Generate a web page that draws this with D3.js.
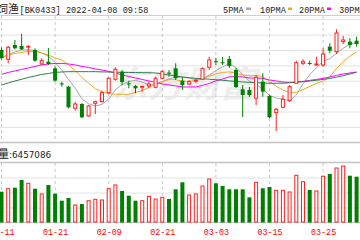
<!DOCTYPE html>
<html>
<head>
<meta charset="utf-8">
<script src="https://cdn.jsdelivr.net/npm/d3@7/dist/d3.min.js"></script>
<style>
  body { margin: 0; background: #fff; }
  svg { display: block; }
</style>
</head>
<body>
<div id="chart"></div>
<script>
// trading days shown in the window (partial left/right crop of the original)
const dates = [
  '2022-01-11', '2022-01-12', '2022-01-13', '2022-01-14', '2022-01-17', '2022-01-18', '2022-01-19', '2022-01-20',
  '2022-01-21', '2022-01-24', '2022-01-25', '2022-01-26', '2022-01-27', '2022-01-28', '2022-02-07', '2022-02-08',
  '2022-02-09', '2022-02-10', '2022-02-11', '2022-02-14', '2022-02-15', '2022-02-16', '2022-02-17', '2022-02-18',
  '2022-02-21', '2022-02-22', '2022-02-23', '2022-02-24', '2022-02-25', '2022-02-28', '2022-03-01', '2022-03-02',
  '2022-03-03', '2022-03-04', '2022-03-07', '2022-03-08', '2022-03-09', '2022-03-10', '2022-03-11', '2022-03-14',
  '2022-03-15', '2022-03-16', '2022-03-17', '2022-03-18', '2022-03-21', '2022-03-22', '2022-03-23', '2022-03-24',
  '2022-03-25', '2022-03-28', '2022-03-29', '2022-03-30', '2022-03-31', '2022-04-01'
];

const open = [
  1100, 1087.9, 1106.5, 1105.2, 1103.6, 1100, 1081.8, 1084.8, 1076.2, 1056.5, 1052.3, 1024.2, 1029.8, 1014.2,
  1030.7, 1032.8, 1044.5, 1061.9, 1071.8, 1056.5, 1053.2, 1051.5, 1053.2, 1051.5, 1063.2, 1070.5, 1076.2, 1060.1,
  1055.8, 1059.4, 1061.9, 1077.5, 1085.4, 1084, 1088.3, 1074, 1048.9, 1048, 1037.2, 1058.8, 1040.2, 1018.5,
  1025.5, 1034.1, 1056.7, 1082.7, 1083.1, 1080.5, 1080.5, 1104.3, 1097.8, 1110.8, 1110.8, 1112.1
];
const high = [
  1103.3, 1105.2, 1113, 1120.8, 1106.5, 1102.2, 1089.2, 1102.6, 1078.3, 1058.8, 1053.2, 1032.8, 1030.7, 1028.5,
  1034.1, 1047.1, 1064.5, 1077.5, 1074, 1060.1, 1054.5, 1053.2, 1058.8, 1065.3, 1074, 1074, 1082.7, 1064.5,
  1061, 1063, 1077.3, 1091.3, 1089.6, 1090.9, 1092.2, 1076.6, 1054.5, 1051.9, 1067.5, 1069.7, 1041.5, 1024.6,
  1041.5, 1054.5, 1086.1, 1087.9, 1086.1, 1091.3, 1102.2, 1108.7, 1126.9, 1118.2, 1115.2, 1117.3
];
const low = [
  1087.7, 1082.7, 1100.9, 1100, 1093.5, 1084.8, 1080.5, 1080.5, 1058.8, 1052.3, 1024.2, 1021.1, 1011.2, 1013.3,
  1016.8, 1031.5, 1042.8, 1060.1, 1054.5, 1050.2, 1043.7, 1045.8, 1050.2, 1050.2, 1061.9, 1065.3, 1061, 1048,
  1054.5, 1057.1, 1061, 1074, 1080.5, 1080.5, 1076.6, 1050.6, 1012.9, 1038.9, 1028.5, 1039.3, 1011.6, 994.7,
  1024.2, 1032.8, 1055.8, 1080.5, 1080.5, 1079.9, 1078.3, 1095.7, 1094.8, 1107.8, 1102.2, 1104.3
];
const close = [
  1089.2, 1103.5, 1102.2, 1100.9, 1104.6, 1086.1, 1086.1, 1081.8, 1060.1, 1055.2, 1025.5, 1029.8, 1012.5, 1027.2,
  1032.8, 1044.5, 1063.2, 1074.9, 1058.4, 1055.2, 1050.2, 1052.8, 1055.8, 1063.2, 1071.8, 1069.2, 1063.2, 1054.5,
  1058.8, 1060.4, 1075.7, 1087, 1084.4, 1083.1, 1079.2, 1051.9, 1041.5, 1041.5, 1064.5, 1045.8, 1012.5, 1022.9,
  1035.9, 1052.3, 1083.5, 1084.8, 1082.2, 1081.8, 1094.8, 1099.1, 1122.1, 1113, 1106.5, 1107.8
];
const volume = [
  3080, 3380, 3480, 4250, 3920, 3380, 2850, 3750, 2880, 2180, 2450, 1750, 1850, 2180,
  2320, 2250, 3380, 3750, 3150, 2680, 2180, 2180, 2620, 2350, 2520, 2350, 3320, 4020,
  2750, 2850, 3650, 4350, 3920, 3650, 3320, 3320, 3320, 2520, 4020, 3420, 3550, 3220,
  3220, 3050, 4720, 4080, 3250, 3150, 4620, 4850, 5450, 5650, 4680, 4580
];

const ma5 = [
  1089.6, 1093.5, 1097.4, 1100, 1100.1, 1099.5, 1096, 1091.9, 1083.8, 1073.9, 1061.8, 1050.5, 1036.6, 1030.1,
  1027.2, 1029.4, 1036, 1048.5, 1054.8, 1059.2, 1060.4, 1058.3, 1054.5, 1055.4, 1058.8, 1062.6, 1064.6, 1064.4,
  1063.5, 1061.3, 1062.6, 1067.2, 1073.2, 1078.2, 1081.9, 1077.1, 1068, 1059.4, 1055.7, 1049, 1041.1, 1037.5,
  1036.3, 1033.8, 1041.4, 1055.9, 1067.8, 1076.9, 1085.4, 1088.6, 1096, 1102.2, 1107.2, 1109.8
];
const ma10 = [
  1090.9, 1093.5, 1095.5, 1096.8, 1098.1, 1098.1, 1096.1, 1093.5, 1089.6, 1087, 1080.6, 1073.2, 1064.3, 1056.8,
  1049.7, 1045.5, 1043.2, 1042.5, 1042.4, 1042.3, 1044.9, 1047.1, 1051.5, 1055, 1058.9, 1061.4, 1061.4, 1059.4,
  1059.4, 1059.9, 1062.6, 1065.9, 1068.8, 1070.8, 1071.5, 1069.8, 1067.6, 1066.3, 1066.9, 1065.4, 1059.1, 1052.7,
  1047.9, 1044.8, 1045.1, 1048.5, 1052.5, 1056.6, 1059.6, 1064.9, 1075.9, 1084.9, 1091.9, 1097.5
];
const ma20 = [
  1068.4, 1070.8, 1072.7, 1074.7, 1076.6, 1078.6, 1080.5, 1081.8, 1082.5, 1082.5, 1081.8, 1080.5, 1078.6, 1077.3,
  1075.3, 1074, 1072.1, 1070.1, 1067.5, 1065.6, 1063.6, 1061.7, 1059.7, 1057.8, 1055.8, 1054.5, 1053.2, 1051.9,
  1051.9, 1051.9, 1053.9, 1056.5, 1059.7, 1062.3, 1064.9, 1065.6, 1064.9, 1063.6, 1063.6, 1063, 1061, 1059.7,
  1058.4, 1057.8, 1058.4, 1059.1, 1060.4, 1061.7, 1063, 1064.9, 1066.9, 1068.8, 1070.1, 1071.4
];
const ma30 = [
  1054.5, 1057.1, 1059.7, 1061.9, 1064.3, 1066.2, 1068.2, 1069.5, 1070.8, 1071.4, 1071.8, 1071.8, 1071.8, 1071.8,
  1071.8, 1071.5, 1071.4, 1071.1, 1070.9, 1070.8, 1070.6, 1070.5, 1070.4, 1070.1, 1068.8, 1067.5, 1066.2, 1064.9,
  1063.9, 1063.1, 1062.7, 1062, 1061.3, 1060.6, 1059.8, 1059.1, 1058.4, 1057.9, 1057.5, 1057.1, 1056.7, 1056.7,
  1056.8, 1057.4, 1058, 1058.8, 1059.7, 1060.6, 1061.7, 1063, 1064.6, 1066.6, 1068.8, 1071
];

const tickDates = ['2022-01-11', '2022-01-21', '2022-02-09', '2022-02-21', '2022-03-03', '2022-03-15', '2022-03-25'];
const priceTicks = [1000, 1020, 1040, 1060, 1080, 1100, 1120, 1140];
const volTicks = [1500, 3000, 4500];
const maNames = ['5PMA', '10PMA', '20PMA', '30PMA'];
const maColors = ['#a8a8a8', '#f5a623', '#ff00ff', '#2e7d4f'];

const W = 360, H = 240;
const RED = '#ff2020', GREEN = '#008000';
const CJK = '"Noto Sans CJK SC", sans-serif';
const MONO = '"Liberation Mono", "DejaVu Sans Mono", monospace';

const rows = dates.map((d, i) => ({
  date: d, o: open[i], h: high[i], l: low[i], c: close[i], v: volume[i], up: close[i] >= open[i]
}));

const svg = d3.select('#chart').append('svg')
  .attr('width', W)
  .attr('height', H);

const x = d3.scalePoint().domain(dates).range([1.5, 356.6]);
const y = d3.scaleLinear().domain([1000, 1140]).range([126.9, 19.2]);
const yVol = d3.scaleLinear().domain([0, 6000]).range([222.5, 162.5]);

// watermark
svg.append('text')
  .attr('x', 184).attr('y', 97)
  .attr('text-anchor', 'middle')
  .attr('font-family', CJK)
  .attr('font-size', 36)
  .attr('font-weight', 'bold')
  .attr('font-style', 'italic')
  .attr('fill', '#ededed')
  .text('东方财富');

// horizontal grid
svg.append('g')
  .attr('class', 'grid-price')
  .call(d3.axisLeft(y).tickValues(priceTicks).tickSize(-W).tickFormat(''))
  .call(g => g.select('.domain').remove())
  .call(g => g.selectAll('line').attr('stroke', '#e2e2e2'));

svg.append('g')
  .attr('class', 'grid-vol')
  .call(d3.axisLeft(yVol).tickValues(volTicks).tickSize(-W).tickFormat(''))
  .call(g => g.select('.domain').remove())
  .call(g => g.selectAll('line').attr('stroke', '#e2e2e2'));

// vertical dashed grid
const vgrid = svg.append('g').attr('class', 'grid-x');
[[16, 142], [163, 222.5]].forEach(([y0, y1]) => {
  vgrid.selectAll(null)
    .data(tickDates)
    .enter().append('line')
    .attr('x1', d => x(d)).attr('x2', d => x(d))
    .attr('y1', y0).attr('y2', y1)
    .attr('stroke', '#c8c8c8')
    .attr('stroke-dasharray', '3,3');
});

// frame lines
[[15.5, '#cfcfcf', 1], [142.5, '#c4c4c4', 1.5], [162.5, '#c4c4c4', 1.5], [222.5, '#c4c4c4', 1]].forEach(([yy, c, w]) => {
  svg.append('line')
    .attr('x1', 0).attr('x2', W)
    .attr('y1', yy).attr('y2', yy)
    .attr('stroke', c).attr('stroke-width', w);
});

// moving averages
const maSeries = [ma5, ma10, ma20, ma30];
const line = d3.line().x((d, i) => x(dates[i])).y(d => y(d));
svg.append('g')
  .attr('class', 'ma')
  .selectAll('path')
  .data(maSeries)
  .enter().append('path')
  .attr('d', line)
  .attr('fill', 'none')
  .attr('stroke', (d, i) => maColors[i])
  .attr('stroke-width', 1);

// candles
const candle = svg.append('g')
  .attr('class', 'candles')
  .selectAll('g')
  .data(rows)
  .enter().append('g');

candle.filter(d => !d.up).append('line')
  .attr('x1', d => x(d.date)).attr('x2', d => x(d.date))
  .attr('y1', d => y(d.h)).attr('y2', d => y(d.l))
  .attr('stroke', GREEN);

candle.filter(d => !d.up).append('rect')
  .attr('x', d => x(d.date) - 2)
  .attr('y', d => y(d.o))
  .attr('width', 4)
  .attr('height', d => Math.max(1, y(d.c) - y(d.o)))
  .attr('fill', GREEN);

candle.filter(d => d.up).append('line')
  .attr('x1', d => x(d.date)).attr('x2', d => x(d.date))
  .attr('y1', d => y(d.h)).attr('y2', d => y(d.c))
  .attr('stroke', RED);

candle.filter(d => d.up).append('line')
  .attr('x1', d => x(d.date)).attr('x2', d => x(d.date))
  .attr('y1', d => y(d.o)).attr('y2', d => y(d.l))
  .attr('stroke', RED);

candle.filter(d => d.up).append('rect')
  .attr('x', d => x(d.date) - 1.5)
  .attr('y', d => y(d.c))
  .attr('width', 3)
  .attr('height', d => Math.max(0.5, y(d.o) - y(d.c)))
  .attr('fill', '#fff')
  .attr('stroke', RED);

// volume bars
svg.append('g')
  .attr('class', 'volume')
  .selectAll('rect')
  .data(rows)
  .enter().append('rect')
  .attr('x', d => x(d.date) - (d.up ? 1.5 : 2))
  .attr('y', d => yVol(d.v))
  .attr('width', d => d.up ? 3 : 4)
  .attr('height', d => yVol(0) - yVol(d.v) - (d.up ? 0.5 : 0))
  .attr('fill', d => d.up ? '#fff' : GREEN)
  .attr('stroke', d => d.up ? RED : 'none');

// x axis labels
svg.append('g')
  .attr('class', 'axis-x')
  .attr('transform', 'translate(0,222.5)')
  .call(d3.axisBottom(x).tickValues(tickDates).tickSize(0).tickFormat(d => d.slice(5)))
  .call(g => g.select('.domain').remove())
  .call(g => g.selectAll('text')
    .attr('y', 12.5).attr('dy', 0)
    .attr('fill', '#f00')
    .attr('font-family', MONO)
    .attr('font-size', 8.4));

// title
const title = svg.append('text')
  .attr('x', -25).attr('y', 12.5)
  .attr('fill', '#222');
title.append('tspan').attr('font-family', CJK).attr('font-size', 11).text('农牧饲渔');
title.append('tspan').attr('font-family', MONO).attr('font-size', 8.6).attr('x', 19.5)
  .text('[BK0433] 2022-04-08 09:58');

// legend
const legendX = [223, 260, 299, 339];
const markX = [246, 288, 327, 372];
const legend = svg.append('g').attr('class', 'legend');
maNames.forEach((name, i) => {
  legend.append('text')
    .attr('x', legendX[i]).attr('y', 12.5)
    .attr('font-family', MONO).attr('font-size', 8.6)
    .attr('fill', '#222')
    .text(name);
  legend.append('rect')
    .attr('x', markX[i]).attr('y', 7.5)
    .attr('width', i === 0 ? 5 : 4).attr('height', 2.5)
    .attr('fill', maColors[i]);
});

// volume readout
const vlab = svg.append('text')
  .attr('x', -24).attr('y', 158)
  .attr('fill', '#222');
vlab.append('tspan').attr('font-family', CJK).attr('font-size', 11).text('成交量');
vlab.append('tspan').attr('font-family', '"DejaVu Sans", sans-serif').attr('font-size', 8.8).text(':6457086');
</script>
</body>
</html>
